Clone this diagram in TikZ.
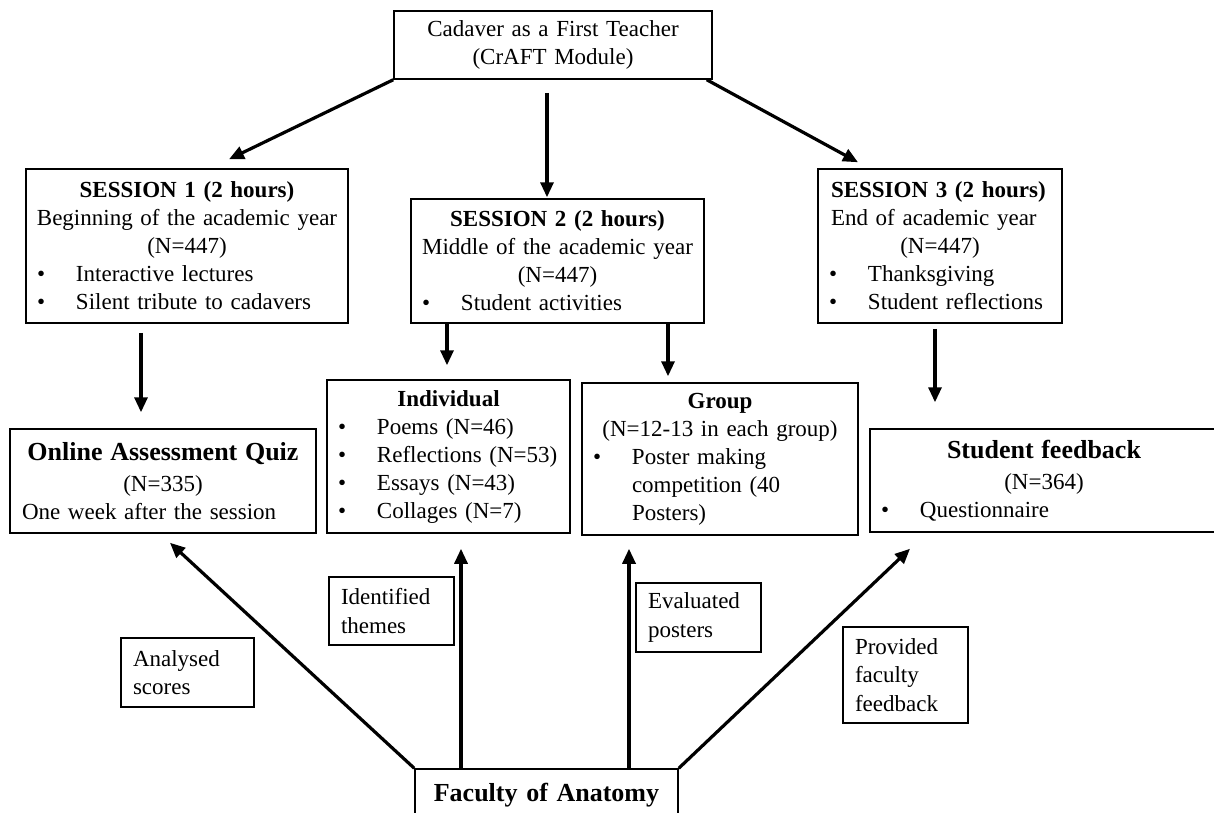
\documentclass[tikz,border=0pt]{standalone}
\usepackage{fontspec}
\setmainfont{Liberation Serif}
\usetikzlibrary{arrows.meta}
\newcommand{\bul}[1]{\makebox[\linewidth][l]{\hspace*{11pt}\makebox[39pt][l]{•}#1}}
\newcommand{\lft}[2]{\makebox[\linewidth][l]{\hspace*{#1}#2}}
\begin{document}
\begin{tikzpicture}[x=1pt,y=-1pt,
  box/.style={draw, line width=1.5pt, inner xsep=0pt, inner ysep=0pt, align=center,
    font=\fontsize{23}{28}\selectfont},
  lab/.style={draw, line width=1.3pt, inner xsep=12pt, inner ysep=0pt, align=left,
    font=\fontsize{23}{28.5}\selectfont},
  big/.style={font=\fontsize{26}{31}\selectfont\bfseries},
  arr/.style={line width=3.2pt, -{Triangle[length=15pt,width=13pt]}}]
\fill[white] (0,0) rectangle (1214,812);
\useasboundingbox (0,0) rectangle (1214,812);

\node[box, minimum width=318pt, minimum height=68pt, text width=318pt] (top) at (553,45)
  {Cadaver as a First Teacher\\(CrAFT Module)};

\node[box, minimum width=322pt, minimum height=154pt, text width=322pt] (s1) at (187,246)
  {\textbf{SESSION 1 (2 hours)}\\Beginning of the academic year\\(N=447)\\
   \bul{Interactive lectures}\\\bul{Silent tribute to cadavers}};

\node[box, minimum width=293pt, minimum height=124pt, text width=293pt] (s2) at (557.5,261)
  {\textbf{SESSION 2 (2 hours)}\\Middle of the academic year\\(N=447)\\
   \bul{Student activities}};

\node[box, minimum width=244pt, minimum height=154pt, text width=244pt] (s3) at (940,246)
  {\lft{13pt}{\textbf{SESSION 3 (2 hours)}}\\\lft{13pt}{End of academic year}\\(N=447)\\
   \bul{Thanksgiving}\\\bul{Student reflections}};

\node[box, minimum width=306pt, minimum height=104pt, text width=306pt] (online) at (163,481)
  {{\fontsize{26}{31}\selectfont\bfseries Online Assessment Quiz}\\[3pt](N=335)\\
   \lft{12pt}{One week after the session}};

\node[box, minimum width=243pt, minimum height=153pt, text width=243pt] (ind) at (448.5,456.5)
  {\textbf{Individual}\\\bul{Poems (N=46)}\\\bul{Reflections (N=53)}\\
   \bul{Essays (N=43)}\\\bul{Collages (N=7)}};

\node[box, minimum width=276pt, minimum height=152pt, text width=276pt] (group) at (720,459)
  {\textbf{Group}\\(N=12-13 in each group)\\\bul{Poster making}\\
   \lft{50pt}{competition (40}\\\lft{50pt}{Posters)}};

\node[box, minimum width=348pt, minimum height=103pt, text width=348pt] (sf) at (1044,480.5)
  {{\fontsize{26}{31}\selectfont\bfseries Student feedback}\\[3pt](N=364)\\
   \bul{Questionnaire}};

\node[box, big, minimum width=263pt, minimum height=52pt, text width=263pt] (fac) at (546.5,795)
  {Faculty of Anatomy};

\node[lab, minimum width=133pt, minimum height=69pt, text width=109pt] (l1) at (187.5,672.5)
  {Analysed\\scores};
\node[lab, minimum width=125pt, minimum height=68pt, text width=101pt] (l2) at (391.5,611)
  {Identified\\themes};
\node[lab, minimum width=125pt, minimum height=69pt, text width=101pt] (l3) at (698.5,617.5)
  {Evaluated\\posters};
\node[lab, minimum width=125pt, minimum height=96pt, text width=101pt] (l4) at (905.5,675)
  {Provided\\faculty\\feedback};

\draw[arr] (top.south west) -- ([xshift=42pt,yshift=9pt]s1.north);
\draw[arr] ([xshift=-6pt,yshift=-13pt]top.south) -- ([xshift=-10.5pt,yshift=1pt]s2.north);
\draw[arr] ([xshift=-6pt]top.south east) -- ([xshift=-82pt,yshift=6pt]s3.north);

\draw[arr] ([xshift=-46pt,yshift=-9pt]s1.south) -- ([xshift=-22pt,yshift=16pt]online.north);
\draw[arr] ([xshift=-110.5pt]s2.south) -- ([xshift=-1.5pt,yshift=14pt]ind.north);
\draw[arr] ([xshift=110.5pt]s2.south) -- ([xshift=-52pt,yshift=6pt]group.north);
\draw[arr] ([xshift=-5pt,yshift=-5pt]s3.south) -- ([xshift=-109pt,yshift=26pt]sf.north);

\draw[arr] (fac.north west) -- ([xshift=7pt,yshift=-9pt]online.south);
\draw[arr] ([xshift=-85.5pt]fac.north) -- ([xshift=12.5pt,yshift=-15pt]ind.south);
\draw[arr] ([xshift=82.5pt]fac.north) -- ([xshift=-91pt,yshift=-13pt]group.south);
\draw[arr] (fac.north east) -- ([xshift=-134pt,yshift=-16pt]sf.south);
\end{tikzpicture}
\end{document}
